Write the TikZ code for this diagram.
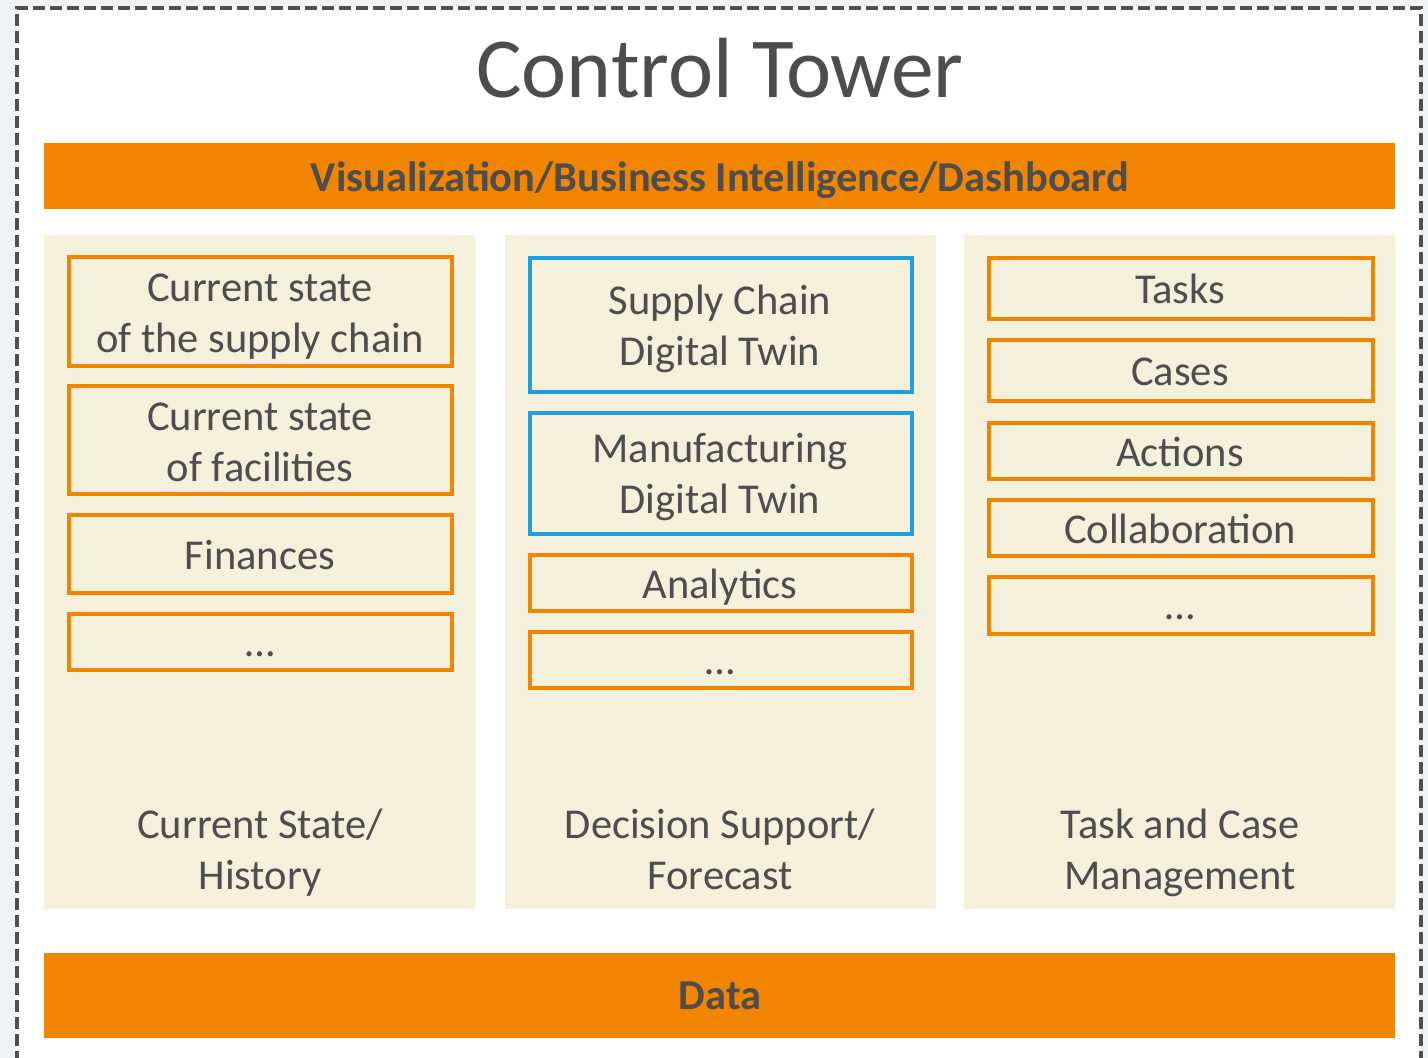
\documentclass[tikz,border=0pt]{standalone}
\usepackage{fontspec}
\setmainfont{Carlito}
\definecolor{corange}{HTML}{F28500}
\definecolor{cblue}{HTML}{1CA0DE}
\definecolor{cbeige}{HTML}{F5F0DB}
\definecolor{ctext}{HTML}{4D4D4D}
\definecolor{cdash}{HTML}{505050}
\definecolor{cbg}{HTML}{F1F2F4}
\tikzset{
  obox/.style={draw=corange, line width=4pt, fill=cbeige, inner sep=0pt, rectangle},
  bbox/.style={draw=cblue, line width=4pt, fill=cbeige, inner sep=0pt, rectangle},
  colbg/.style={fill=cbeige, draw=none, inner sep=0pt, rectangle},
  bar/.style={fill=corange, draw=none, inner sep=0pt, rectangle},
  lbl/.style={anchor=base, inner sep=0pt, text=ctext, font=\fontsize{42.5}{51}\selectfont},
  blbl/.style={anchor=base, inner sep=0pt, text=ctext, font=\fontsize{42.5}{51}\selectfont\bfseries},
}
\begin{document}
\begin{tikzpicture}[x=1pt,y=-1pt]
\useasboundingbox (0,0) rectangle (1428,1058);
\clip (0,0) rectangle (1428,1058);
\fill[cbg] (0,0) rectangle (1428,1058);
\fill[white] (17,8) rectangle (1421,1080);
\draw[cdash, line width=4pt, dash pattern=on 12pt off 5pt] (17,1080) -- (17,8) -- (1421,8) -- (1421,1080);

% title
\node[anchor=base, inner sep=0pt, text=ctext, font=\fontsize{85.5}{100}\selectfont] (title) at (720,97) {Control Tower};

% top bar
\node[bar, minimum width=1351pt, minimum height=66pt] (vbar) at (719.5,176) {};
\node[blbl] (vtxt) at (720,191) {Visualization/Business Intelligence/Dashboard};

% columns
\node[colbg, minimum width=431pt, minimum height=674pt] (col1) at (259.5,572) {};
\node[colbg, minimum width=431pt, minimum height=674pt] (col2) at (720.5,572) {};
\node[colbg, minimum width=431pt, minimum height=674pt] (col3) at (1179.5,572) {};

% column 1
\node[obox, minimum width=383pt, minimum height=109pt] (c1b1) at (260.5,311.5) {};
\node[obox, minimum width=383pt, minimum height=108pt] (c1b2) at (260.5,440) {};
\node[obox, minimum width=383pt, minimum height=78pt] (c1b3) at (260.5,554) {};
\node[obox, minimum width=383pt, minimum height=56pt] (c1b4) at (260.5,642) {};
\node[lbl] (t11a) at (260,301) {Current state};
\node[lbl] (t11b) at (260,352) {of the supply chain};
\node[lbl] (t12a) at (260,430) {Current state};
\node[lbl] (t12b) at (260,481) {of facilities};
\node[lbl] (t13) at (260,569) {Finances};
\node[lbl] (t14) at (260,656) {…};
\node[lbl] (f1a) at (260,838) {Current State/};
\node[lbl] (f1b) at (260,889) {History};

% column 2
\node[bbox, minimum width=382pt, minimum height=134pt] (c2b1) at (721,325) {};
\node[bbox, minimum width=382pt, minimum height=121pt] (c2b2) at (721,473.5) {};
\node[obox, minimum width=382pt, minimum height=56pt] (c2b3) at (721,583) {};
\node[obox, minimum width=382pt, minimum height=56pt] (c2b4) at (721,660) {};
\node[lbl] (t21a) at (720,314) {Supply Chain};
\node[lbl] (t21b) at (720,365) {Digital Twin};
\node[lbl] (t22a) at (720,462) {Manufacturing};
\node[lbl] (t22b) at (720,513) {Digital Twin};
\node[lbl] (t23) at (720,598) {Analytics};
\node[lbl] (t24) at (720,674) {…};
\node[lbl] (f2a) at (720,838) {Decision Support/};
\node[lbl] (f2b) at (720,889) {Forecast};

% column 3
\node[obox, minimum width=384pt, minimum height=61pt] (c3b1) at (1181,288.5) {};
\node[obox, minimum width=384pt, minimum height=61pt] (c3b2) at (1181,370.5) {};
\node[obox, minimum width=384pt, minimum height=56pt] (c3b3) at (1181,451) {};
\node[obox, minimum width=384pt, minimum height=56pt] (c3b4) at (1181,528) {};
\node[obox, minimum width=384pt, minimum height=57pt] (c3b5) at (1181,605.5) {};
\node[lbl] (t31) at (1180,303) {Tasks};
\node[lbl] (t32) at (1180,385) {Cases};
\node[lbl] (t33) at (1180,466) {Actions};
\node[lbl] (t34) at (1180,543) {Collaboration};
\node[lbl] (t35) at (1180,619) {…};
\node[lbl] (f3a) at (1180,838) {Task and Case};
\node[lbl] (f3b) at (1180,889) {Management};

% data bar
\node[bar, minimum width=1351pt, minimum height=85pt] (dbar) at (719.5,995.5) {};
\node[blbl] (dtxt) at (720,1009) {Data};
\end{tikzpicture}
\end{document}
